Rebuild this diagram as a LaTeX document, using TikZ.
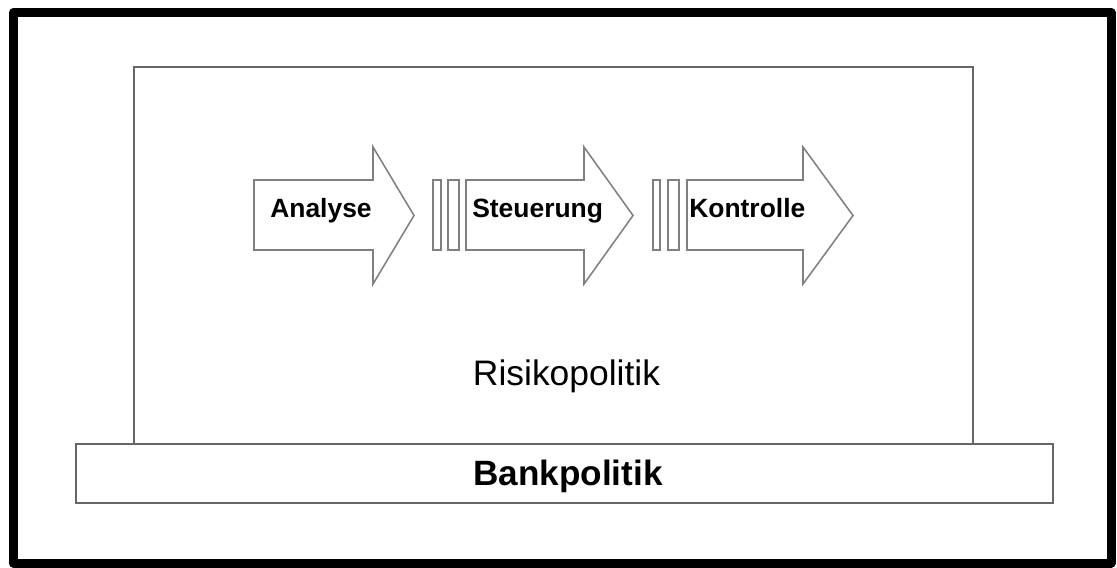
\documentclass[tikz,border=0pt]{standalone}
\usepackage{fontspec}
\setmainfont{Liberation Sans}
\usetikzlibrary{positioning}

\begin{document}
\begin{tikzpicture}[x=0.025cm, y=-0.025cm]
    \tikzstyle{frame} = [draw, line width=6.4pt, line join=round]
    \tikzstyle{layer} = [draw=black!60, line width=1.1pt]
    \tikzstyle{phase} = [draw=black!50, line width=1.1pt, fill=white]
    \tikzstyle{gate} = [draw=black!50, line width=0.9pt]
    \tikzstyle{phaselabel} = [anchor=base west, inner sep=0pt, font=\bfseries\fontsize{18.8}{22}\selectfont]

    \useasboundingbox (0,0) rectangle (1117,567);
    \draw [frame] (13,12.5) rectangle (1111,563);

    % Bankpolitik und Risikopolitik
    \node [layer, minimum width=24.425cm, minimum height=1.475cm, inner sep=0pt] (bank) at (564.5,473.5) {};
    \node [anchor=base, inner sep=0pt, font=\bfseries\fontsize{25}{30}\selectfont] (banklabel) at (568,485) {Bankpolitik};
    \coordinate (risk sw) at (134,444);
    \coordinate (risk se) at (973,444);
    \draw [layer] (risk sw) -- (134,67) -- (973,67) -- (risk se);
    \node [anchor=base, inner sep=0pt, font=\fontsize{25.2}{30}\selectfont] (risk) at (566.5,385) {Risikopolitik};

    % Prozesspfeile
    \draw [phase] (254,180) -- (373,180) -- (373,147) -- (414,215.5) -- (373,284) -- (373,250) -- (254,250) -- cycle;
    \draw [gate] (433,180) rectangle (441,250);
    \draw [gate] (448,180) rectangle (459,250);
    \draw [phase] (466,180) -- (584,180) -- (584,147) -- (633,215.5) -- (584,284) -- (584,250) -- (466,250) -- cycle;
    \draw [gate] (653,180) rectangle (660,250);
    \draw [gate] (668,180) rectangle (679,250);
    \draw [phase] (687,180) -- (803,180) -- (803,147) -- (853,215.5) -- (803,284) -- (803,250) -- (687,250) -- cycle;

    \node [phaselabel] (analyse) at (270,217) {Analyse};
    \node [phaselabel] (steuerung) at (472,217) {Steuerung};
    \node [phaselabel] (kontrolle) at (689,217) {Kontrolle};
\end{tikzpicture}
\end{document}
